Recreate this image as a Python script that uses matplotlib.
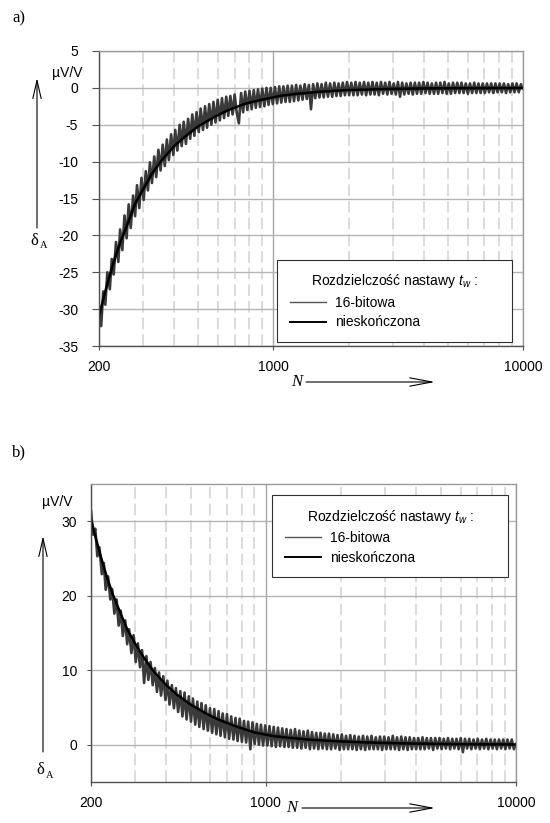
import matplotlib
matplotlib.use("Agg")
import matplotlib.pyplot as plt
from matplotlib.ticker import FixedLocator, NullFormatter

# ──────────────────────────────────────────
# DATA
# ──────────────────────────────────────────
# sample numbers N for the quantised (16-bit) runs
n_grid = [
    200, 204, 208, 212, 216, 221, 225, 229, 234, 239,
    243, 248, 253, 258, 263, 268, 274, 279, 284, 290,
    296, 302, 308, 314, 320, 326, 333, 339, 346, 353,
    360, 367, 374, 381, 389, 397, 404, 412, 421, 429,
    437, 446, 455, 464, 473, 482, 492, 502, 511, 522,
    532, 542, 553, 564, 575, 586, 598, 610, 622, 634,
    647, 659, 672, 686, 699, 713, 727, 742, 756, 771,
    786, 802, 818, 834, 850, 867, 884, 902, 920, 938,
    956, 975, 994, 1014, 1034, 1055, 1075, 1097, 1118, 1140,
    1163, 1186, 1209, 1233, 1258, 1282, 1308, 1334, 1360, 1387,
    1414, 1442, 1471, 1500, 1529, 1559, 1590, 1621, 1654, 1686,
    1720, 1754, 1788, 1824, 1860, 1896, 1934, 1972, 2011, 2051,
    2092, 2133, 2175, 2218, 2261, 2307, 2352, 2398, 2446, 2494,
    2543, 2594, 2645, 2697, 2751, 2804, 2860, 2917, 2974, 3033,
    3093, 3154, 3216, 3280, 3345, 3410, 3478, 3546, 3616, 3688,
    3760, 3835, 3910, 3988, 4067, 4147, 4229, 4312, 4398, 4484,
    4572, 4663, 4755, 4849, 4945, 5042, 5142, 5244, 5347, 5453,
    5561, 5670, 5783, 5897, 6013, 6132, 6253, 6377, 6503, 6631,
    6762, 6896, 7032, 7171, 7313, 7457, 7604, 7755, 7908, 8064,
    8224, 8386, 8552, 8721, 8893, 9069, 9248, 9431, 9617, 9808,
    10000,
]

# delta_A [uV/V], case a), 16-bit setting resolution
a_16bit = [
    -29.6, -32.3, -27.6, -29.4, -25.0, -27.3, -23.2, -25.3, -20.9, -23.6,
    -19.2, -22.0, -17.3, -20.4, -15.8, -19.0, -14.6, -17.4, -13.2, -16.3,
    -12.2, -15.2, -11.3, -13.9, -10.1, -12.9, -9.3, -12.1, -8.4, -11.2,
    -7.7, -10.6, -7.0, -9.8, -6.3, -9.1, -5.7, -8.5, -5.0, -7.9,
    -4.6, -7.6, -4.2, -6.9, -3.6, -6.5, -3.3, -6.0, -2.8, -5.7,
    -2.5, -5.4, -2.2, -5.0, -1.9, -4.7, -1.6, -4.4, -1.4, -4.1,
    -1.2, -3.8, -1.1, -3.6, -0.9, -3.4, -4.8, -0.7, -3.3, -0.5,
    -3.0, -0.4, -2.9, -0.3, -2.7, -0.2, -2.6, -0.1, -2.5, 0.0,
    -2.3, 0.0, -2.2, 0.1, -2.1, 0.2, -2.0, 0.2, -1.9, 0.3,
    -1.9, 0.3, -1.8, 0.4, -1.7, 0.3, -1.6, 0.5, -1.5, 0.4,
    -2.9, 0.5, -1.4, 0.6, -1.3, 0.5, -1.3, 0.7, -1.2, 0.6,
    -1.2, 0.7, -1.1, 0.6, -1.1, 0.7, -1.0, 0.8, -1.0, 0.7,
    -1.0, 0.8, -1.0, 0.7, -0.9, 0.8, -1.0, 0.7, -0.9, 0.8,
    -0.9, 0.7, -1.0, 0.8, -0.8, 0.7, -0.9, 0.8, -0.8, 0.6,
    -0.9, 0.8, -1.2, 0.7, -0.9, 0.6, -0.8, 0.7, -0.9, 0.7,
    -0.8, 0.7, -0.8, 0.8, -0.7, 0.7, -0.8, 0.6, -0.8, 0.7,
    -0.8, 0.7, -0.7, 0.8, -0.8, 0.6, -0.8, 0.7, -0.7, 0.7,
    -0.7, 0.7, -0.7, 0.6, -0.8, 0.6, -0.7, 0.7, -0.7, 0.6,
    -0.7, 0.6, -0.7, 0.6, -0.6, 0.6, -0.7, 0.6, -0.6, 0.6,
    -0.6, 0.6, -0.7, 0.5, -0.6, 0.6, -0.6, 0.6, -0.6, 0.5,
    -0.1,
]

# delta_A [uV/V], case b), 16-bit setting resolution
b_16bit = [
    31.4, 28.2, 29.0, 25.3, 26.5, 22.9, 24.4, 20.8, 22.6, 19.5,
    20.9, 17.6, 19.5, 16.0, 18.0, 14.6, 16.7, 13.5, 15.5, 12.3,
    14.7, 11.1, 13.6, 10.4, 12.7, 8.3, 11.9, 8.7, 11.1, 8.0,
    10.3, 7.1, 9.7, 6.6, 9.2, 6.0, 8.6, 5.4, 8.0, 4.9,
    7.6, 4.4, 7.2, 3.8, 7.0, 3.4, 6.5, 3.1, 6.2, 2.7,
    5.8, 2.4, 5.6, 2.1, 5.3, 1.9, 4.9, 1.6, 4.8, 1.4,
    4.5, 1.2, 4.2, 1.0, 4.1, 0.8, 3.8, 0.7, 3.6, 0.5,
    3.5, 0.4, 3.2, 0.3, 3.1, -0.6, 3.0, 0.1, 2.8, 0.0,
    2.7, -0.1, 2.6, -0.1, 2.5, -0.2, 2.4, -0.3, 2.3, -0.2,
    2.2, -0.3, 2.1, -0.3, 2.0, -0.4, 2.1, -0.4, 1.9, -0.5,
    1.8, -0.4, 1.9, -0.6, 1.7, -0.5, 1.6, -0.6, 1.6, -0.5,
    1.5, -0.6, 1.5, -0.6, 1.4, -0.5, 1.3, -0.7, 1.4, -0.6,
    1.2, -0.6, 1.3, -0.6, 1.2, -0.7, 1.1, -0.6, 1.2, -0.7,
    1.1, -0.6, 1.2, -0.6, 1.0, -0.6, 1.1, -0.7, 1.1, -0.6,
    1.0, -0.6, 1.2, -0.6, 1.0, -0.7, 1.1, -0.6, 1.0, -0.7,
    1.0, -0.6, 0.9, -0.6, 0.9, -0.6, 1.0, -0.6, 0.9, -0.5,
    0.9, -0.7, 0.9, -0.5, 0.9, -0.6, 0.8, -0.5, 0.9, -0.6,
    0.8, -0.5, 0.8, -0.6, 0.9, -1.0, 0.8, -0.5, 0.8, -0.6,
    0.7, -0.5, 0.8, -0.6, 0.7, -0.5, 0.8, -0.6, 0.7, -0.5,
    0.7, -0.6, 0.7, -0.5, 0.7, -0.6, 0.7, -0.5, 0.7, -0.6,
    0.1,
]

# infinite setting resolution (smooth curves)
n_smooth = [200, 210, 220, 232, 245, 262, 280, 300, 325, 357, 400, 442, 500, 583,
            650, 769, 900, 1079, 1250, 1500, 1750, 2000, 2500, 3000, 4000, 5000,
            7000, 10000]
a_inf = [-31.0, -28.1, -25.6, -23.0, -20.7, -18.2, -15.6, -13.8, -11.7, -9.8, -7.9,
         -6.6, -5.2, -3.9, -3.1, -2.15, -1.6, -1.05, -0.8, -0.55, -0.4, -0.3, -0.2,
         -0.14, -0.08, -0.05, -0.03, -0.02]
b_inf = [30.2, 27.5, 25.0, 22.4, 20.1, 17.7, 15.4, 13.6, 11.7, 9.8, 8.0, 6.7, 5.4,
         4.1, 3.35, 2.4, 1.65, 1.15, 0.92, 0.68, 0.55, 0.45, 0.32, 0.24, 0.15, 0.1,
         0.06, 0.04]

x_major = [200, 1000, 10000]
x_labels = ["200", "1000", "10000"]
x_minor = [300, 400, 500, 600, 700, 800, 900,
           2000, 3000, 4000, 5000, 6000, 7000, 8000, 9000]

a_yticks = [5, 0, -5, -10, -15, -20, -25, -30, -35]
b_yticks = [0, 10, 20, 30]

legend_title = "Rozdzielczość nastawy $t_w$ :"
labels = ["16-bitowa", "nieskończona"]

# ──────────────────────────────────────────
# STYLE
# ──────────────────────────────────────────
plt.rcParams["font.family"] = ["Liberation Sans", "DejaVu Sans"]
plt.rcParams["mathtext.fontset"] = "custom"
plt.rcParams["mathtext.rm"] = "Liberation Sans"
plt.rcParams["mathtext.it"] = "Liberation Sans:italic"
plt.rcParams["axes.unicode_minus"] = False

FS = 10
H = 823  # figure height in pixels, used to place the free text from the top


def panel(ax, noisy, smooth, ylim, yticks, leg_loc, leg_box, ytick_len, ytick_pad):
    ax.set_xscale("log")
    ax.set_xlim(200, 10000)
    ax.set_ylim(*ylim)
    ax.set_yticks(yticks)
    ax.set_xticks(x_major, x_labels)
    ax.xaxis.set_minor_locator(FixedLocator(x_minor))
    ax.xaxis.set_minor_formatter(NullFormatter())
    ax.tick_params(axis="x", which="minor", length=0)
    ax.tick_params(axis="x", which="major", length=3, pad=7, labelsize=FS, color="#505050")
    ax.tick_params(axis="y", length=ytick_len, pad=ytick_pad, labelsize=FS, color="#505050")

    ax.grid(which="major", axis="y", color="#b4b4b4", lw=1.0)
    ax.grid(which="major", axis="x", color="#a8a8a8", lw=1.0)
    ax.grid(which="minor", axis="x", color="#d6d6d6", lw=1.2, ls=(0, (7, 3)))
    ax.set_axisbelow(True)

    for side in ("left", "bottom"):
        ax.spines[side].set_color("#505050")
        ax.spines[side].set_linewidth(1.0)
    for side in ("top", "right"):
        ax.spines[side].set_color("#9a9a9a")
        ax.spines[side].set_linewidth(1.0)

    ax.plot(n_grid, noisy, color="#3a3a3a", lw=1.9, label=labels[0])
    ax.plot(n_smooth, smooth, color="black", lw=1.8, label=labels[1])

    leg = ax.legend(loc=leg_loc, bbox_to_anchor=leg_box, mode="expand",
                    title=legend_title, fontsize=FS, title_fontsize=FS,
                    fancybox=False, framealpha=1, edgecolor="#303030",
                    handlelength=2.6, handletextpad=0.7, labelspacing=0.4,
                    borderpad=0.9, borderaxespad=0)
    leg.get_frame().set_linewidth(0.8)
    leg.legend_handles[0].set_linewidth(1.0)
    leg.legend_handles[0].set_color("#555555")
    leg.legend_handles[1].set_linewidth(1.4)
    return leg


def vertical_label(fig, x, y_tip, y_tail, y_delta, unit_xy):
    # upward arrow with the delta_A symbol under it and the unit on top
    fig.axes[0].annotate("", xy=(x, H - y_tip), xycoords="figure pixels",
                         xytext=(x, H - y_tail), textcoords="figure pixels",
                         arrowprops=dict(arrowstyle="->,head_length=1.3,head_width=0.3",
                                         lw=0.8, color="black", shrinkA=0, shrinkB=0),
                         annotation_clip=False)
    fig.text((x - 3) / 550, 1 - y_delta / H, "δ", family="Liberation Serif",
             size=12, ha="center", va="center")
    fig.text((x + 3) / 550, 1 - (y_delta + 5) / H, "A", family="Liberation Serif",
             size=7.5, ha="left", va="center")
    fig.text(unit_xy[0] / 550, 1 - unit_xy[1] / H, "µV/V", size=FS,
             ha="center", va="center")


def horizontal_label(fig, x_text, x_tail, x_tip, y):
    fig.text(x_text / 550, 1 - y / H, "N", family="Liberation Serif", style="italic",
             size=12, ha="center", va="center")
    fig.axes[0].annotate("", xy=(x_tip, H - y), xycoords="figure pixels",
                         xytext=(x_tail, H - y), textcoords="figure pixels",
                         arrowprops=dict(arrowstyle="->,head_length=1.6,head_width=0.3",
                                         lw=0.8, color="black", shrinkA=0, shrinkB=0),
                         annotation_clip=False)


# ──────────────────────────────────────────
# PLOT
# ──────────────────────────────────────────
fig = plt.figure(figsize=(5.5, 8.23), dpi=100)
ax_a = fig.add_axes([99 / 550, 1 - 346 / H, 424 / 550, 295 / H])
ax_b = fig.add_axes([91 / 550, 1 - 782 / H, 425 / 550, 298 / H])

panel(ax_a, a_16bit, a_inf, (-35, 5), a_yticks, "lower left",
      (0.42, 0.0136, 0.554, 0.267), 5, 10)
panel(ax_b, b_16bit, b_inf, (-5, 35), b_yticks, "upper left",
      (0.426, 0.701, 0.555, 0.262), 3, 7)

fig.text(12 / 550, 1 - 18 / H, "a)", family="Liberation Serif", size=12, va="center")
fig.text(12 / 550, 1 - 452 / H, "b)", family="Liberation Serif", size=12, va="center")

vertical_label(fig, 37, 78, 228, 241, (67, 73))
vertical_label(fig, 43, 536, 752, 770, (57, 502))
horizontal_label(fig, 297, 306, 435, 382)
horizontal_label(fig, 292, 302, 435, 808)

fig.savefig("out.png", dpi=100)
